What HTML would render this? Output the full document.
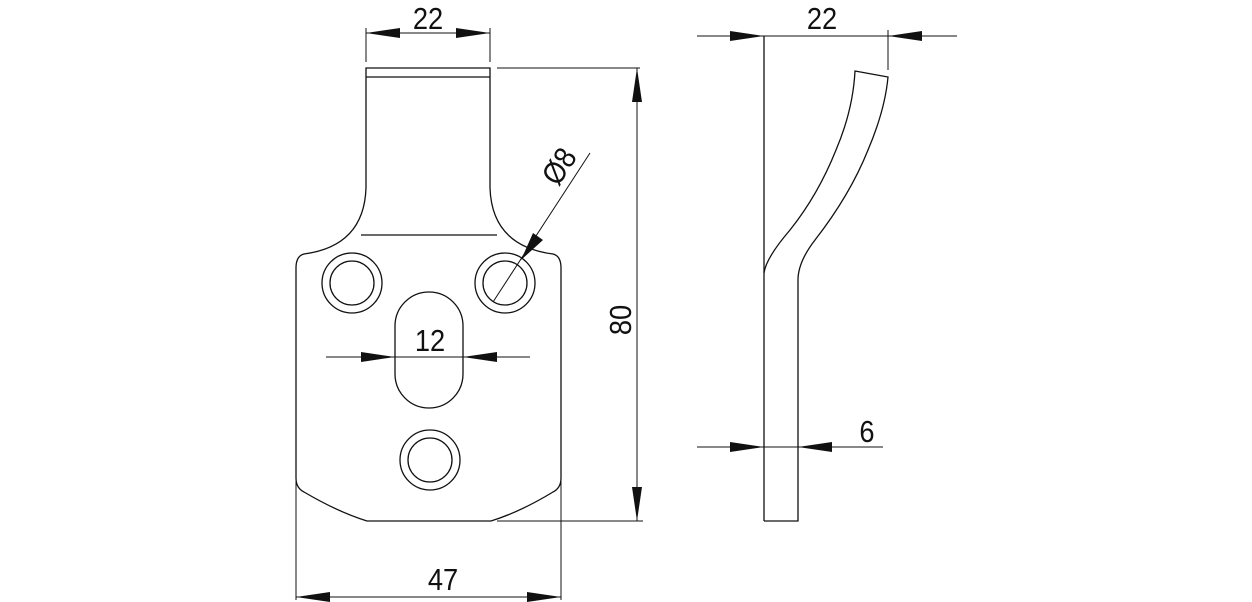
<!DOCTYPE html>
<html><head><meta charset="utf-8"><style>
html,body{margin:0;padding:0;background:#fff;}
svg{display:block;}
text{font-family:"Liberation Sans",sans-serif;font-size:31px;fill:#111;}
</style></head><body>
<svg width="1252" height="602" viewBox="0 0 1252 602" xmlns="http://www.w3.org/2000/svg">
<g fill="none" stroke="#111" stroke-width="1.3">
<path d="M366,68 H490 V188 Q492,246 553,254 Q561,256 561,268 V478 Q561,488 553,492 Q520,512 491,521 H367 Q338,512 304,492 Q296,488 296,478 V268 Q296,256 304,254 Q364,246 366,188 Z"/>
<line x1="366" y1="77" x2="490" y2="77"/>
<line x1="361" y1="235" x2="497" y2="235"/>
<circle cx="352" cy="283" r="30"/><circle cx="352" cy="283" r="22"/>
<circle cx="505" cy="283" r="30"/><circle cx="505" cy="283" r="22"/>
<circle cx="430" cy="460" r="30"/><circle cx="430" cy="460" r="22"/>
<path d="M395,326 A34,34 0 0 1 463,326 V374 A34,34 0 0 1 395,374 Z"/>
</g>
<g fill="none" stroke="#111" stroke-width="1">
<line x1="366" y1="28" x2="366" y2="62"/><line x1="490" y1="28" x2="490" y2="62"/>
<line x1="366" y1="33" x2="490" y2="33"/>
<line x1="497" y1="68" x2="640" y2="68"/><line x1="497" y1="521" x2="643" y2="521"/>
<line x1="637" y1="68" x2="637" y2="521"/>
<line x1="296" y1="480" x2="296" y2="600"/><line x1="561" y1="480" x2="561" y2="600"/>
<line x1="296" y1="597" x2="561" y2="597"/>
<line x1="326" y1="357" x2="530" y2="357"/>
<line x1="590" y1="153" x2="493" y2="302"/>
<line x1="697" y1="36" x2="957" y2="36"/>
<line x1="888" y1="30" x2="888" y2="70"/>
<line x1="697" y1="447" x2="883" y2="447"/>
</g>
<g fill="none" stroke="#111" stroke-width="1.3">
<line x1="764" y1="36" x2="764" y2="521"/>
<path d="M764,521 H798 V280 Q798,262 815,240 Q850,195 868,150 Q885,110 888,77 L855,71 Q853,110 836,150 Q818,195 790,230 Q766,258 764,273"/>
</g>
<g fill="#111">
<polygon points="366,33 400,28 400,38"/><polygon points="490,33 456,28 456,38"/>
<polygon points="637,68 632,102 642,102"/><polygon points="637,521 632,487 642,487"/>
<polygon points="296,597 330,592 330,602"/><polygon points="561,597 527,592 527,602"/>
<polygon points="395,357 361,352 361,362"/><polygon points="463,357 497,352 497,362"/>
<polygon points="521,260 533,233 543,240"/>
<polygon points="764,36 730,31 730,41"/><polygon points="888,36 922,31 922,41"/>
<polygon points="764,447 730,442 730,452"/><polygon points="798,447 832,442 832,452"/>
</g>
<g transform="translate(428,29) scale(0.88,1)"><text text-anchor="middle">22</text></g>
<g transform="translate(822,29) scale(0.88,1)"><text text-anchor="middle">22</text></g>
<g transform="translate(430,351) scale(0.88,1)"><text text-anchor="middle">12</text></g>
<g transform="translate(443,590) scale(0.88,1)"><text text-anchor="middle">47</text></g>
<g transform="translate(867,442) scale(0.88,1)"><text text-anchor="middle">6</text></g>
<g transform="translate(631,320) rotate(-90) scale(0.88,1)"><text text-anchor="middle">80</text></g>
<g transform="translate(568,172) rotate(-57) scale(0.88,1)"><text text-anchor="middle">Ø8</text></g>
</svg>
</body></html>
